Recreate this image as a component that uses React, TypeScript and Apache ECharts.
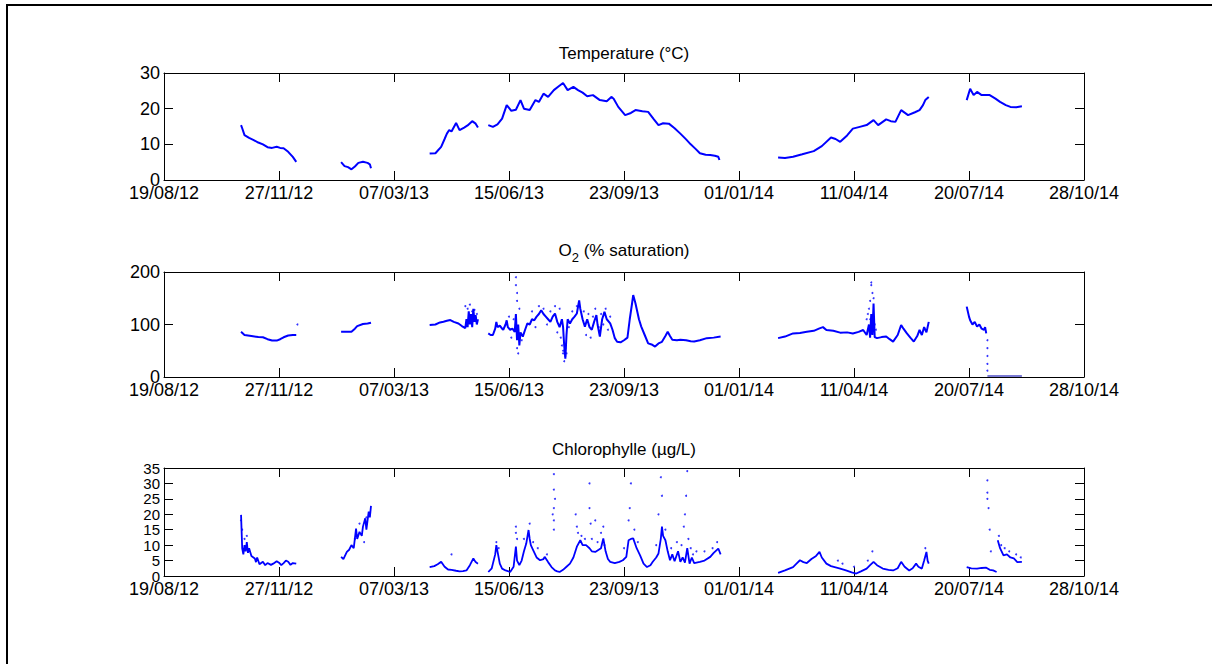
import React, { useEffect, useRef } from 'react';
import * as echarts from 'echarts';

// x values are days since 19/08/12 (ticks every 100 days)
const xTickLabels = ['19/08/12', '27/11/12', '07/03/13', '15/06/13', '23/09/13', '01/01/14', '11/04/14', '20/07/14', '28/10/14'];

const titles = ['Temperature (°C)', 'O2 (% saturation)', 'Chlorophylle (µg/L)'];

const temperatureSegments: [number, number][][] = [
  [[67, 15.4], [68, 14.5], [70, 12.6], [74, 11.8], [78, 11.2], [82, 10.5], [86, 10.0], [90, 9.2], [94, 9.0], [98, 9.3], [101, 9.0], [104, 8.9], [108, 7.9], [112, 6.5], [115, 5.1]],
  [[154, 5.0], [157, 3.9], [160, 3.6], [163, 3.0], [166, 3.8], [169, 4.8], [173, 5.1], [177, 4.8], [179, 4.4], [180, 3.3]],
  [[231, 7.4], [236, 7.5], [241, 9.3], [244, 11.5], [246, 13.0], [248, 14.0], [250, 13.6], [254, 16.0], [257, 14.0], [261, 14.7], [264, 15.3], [268, 16.5], [271, 15.8], [273, 14.7]],
  [[282, 15.4], [286, 14.9], [290, 15.6], [294, 17.2], [298, 21.0], [302, 19.4], [306, 19.7], [310, 22.4], [313, 20.0], [318, 19.6], [323, 22.4], [326, 21.9], [330, 24.2], [334, 23.3], [339, 25.2], [343, 26.2], [347, 27.2], [351, 25.2], [356, 26.1], [360, 25.2], [364, 24.5], [368, 23.5], [373, 23.8], [379, 22.4], [385, 22.1], [389, 23.3], [391, 22.8], [395, 20.5], [401, 18.2], [406, 18.8], [410, 19.6], [416, 19.3], [421, 19.1], [426, 17.0], [430, 15.4], [434, 15.9], [439, 15.8], [444, 14.5], [449, 13.0], [454, 11.4], [458, 10.0], [462, 8.8], [466, 7.5], [471, 7.1], [475, 7.0], [479, 6.8], [482, 6.5], [483, 5.6]],
  [[534, 6.3], [540, 6.2], [547, 6.5], [555, 7.2], [565, 8.1], [572, 9.5], [580, 11.9], [584, 11.5], [588, 10.7], [594, 12.5], [599, 14.4], [605, 14.9], [611, 15.4], [617, 16.8], [621, 15.4], [628, 17.0], [632, 16.5], [636, 16.3], [641, 19.6], [647, 18.2], [653, 19.0], [657, 19.6], [660, 21.0], [662, 22.4], [665, 23.3]],
  [[698, 22.4], [701, 25.6], [704, 23.8], [707, 24.7], [711, 23.8], [718, 23.8], [723, 22.8], [727, 21.9], [732, 21.0], [736, 20.5], [741, 20.4], [746, 20.7]],
];

const o2Segments: [number, number][][] = [
  [[67, 86], [70, 80], [76, 78], [82, 76], [86, 75.7], [90, 72], [94, 69.4], [98, 69.4], [101, 72], [104, 75.7], [108, 79], [112, 80], [115, 80]],
  [[154, 86], [159, 86], [163, 86.4], [166, 92], [168, 97], [173, 101], [177, 102], [180, 103.5]],
  [[231, 99], [236, 100], [240, 104], [243, 105.4], [246, 107], [249, 108.5], [252, 105], [256, 102], [259, 97], [262, 93], [263, 110], [264, 95], [265, 125], [266, 100], [267, 120], [268, 95], [269, 130], [270, 105], [271, 118], [272, 100], [273, 110]],
  [[282, 83], [284, 80], [286, 80], [288, 92], [289, 105], [290, 95], [292, 98], [294, 92], [295, 90], [297, 100], [298, 108], [299, 95], [301, 90], [303, 92], [305, 86], [306, 120], [307, 70], [308, 100], [309, 60], [310, 85], [312, 77], [314, 90], [316, 102], [318, 100], [320, 110], [322, 108], [324, 115], [326, 120], [328, 127], [330, 120], [332, 115], [334, 110], [336, 105], [338, 115], [340, 121], [342, 105], [344, 95], [346, 110], [347, 96], [348, 60], [349, 35], [350, 80], [351, 110], [353, 102], [355, 110], [357, 115], [359, 121], [361, 146], [362, 130], [364, 110], [366, 96], [368, 110], [370, 95], [372, 90], [374, 105], [376, 118], [377, 100], [379, 77], [381, 110], [383, 124], [385, 110], [388, 102], [390, 90], [392, 74], [394, 67], [397, 66], [400, 70], [403, 75], [405, 110], [407, 140], [408, 156], [410, 140], [411, 130], [413, 110], [415, 96], [418, 80], [421, 64], [424, 62], [427, 58], [430, 64], [433, 67], [436, 78], [438, 86], [440, 78], [442, 71], [446, 70], [449, 71], [454, 70], [458, 68], [461, 67.5], [466, 70], [472, 74], [478, 75], [484, 77]],
  [[534, 74], [540, 77], [547, 83], [553, 84], [559, 86], [565, 88], [570, 92.7], [573, 95], [576, 89.6], [582, 88], [588, 84.5], [594, 85], [599, 83], [604, 86], [608, 89.6], [611, 80], [613, 100], [614, 75], [615, 120], [616, 80], [617, 140], [618, 76], [620, 74], [624, 76], [628, 77], [631, 72], [634, 67.5], [638, 80], [641, 99], [643, 92], [646, 83], [649, 75], [652, 67.5], [655, 78], [657, 89.6], [659, 80], [661, 95], [663, 85], [665, 105]],
  [[698, 134], [700, 115], [701, 108], [703, 100], [705, 105], [707, 96], [709, 100], [711, 92], [713, 89.6], [714, 95], [715, 83]],
];

const o2Dots: [number, number][] = [
  [116, 100], [262, 135], [266, 138], [264, 130], [268, 125], [270, 128], [272, 120],
  [300, 115], [302, 75], [304, 110], [306, 190], [306, 175], [306, 100], [307, 160], [307, 145], [307, 55], [308, 45], [308, 80], [309, 130], [311, 70],
  [320, 125], [323, 95], [326, 135], [330, 130], [333, 100], [336, 125], [340, 135], [342, 85], [344, 130], [345, 75], [346, 60], [347, 45], [347, 50], [348, 30], [349, 40], [349, 55], [350, 45], [352, 95], [355, 125],
  [359, 135], [365, 125], [367, 80], [369, 120], [371, 75], [373, 115], [375, 130], [378, 95], [380, 120], [382, 100], [384, 130], [386, 90], [388, 115],
  [611, 110], [612, 120], [613, 130], [614, 145], [614, 110], [615, 175], [615, 180], [616, 160], [617, 150], [618, 100], [619, 90],
  [716, 70], [716, 55], [716, 40], [716, 25], [716, 12],
];

const o2Zero: [number, number][] = [[716, 2], [746, 2]];

const chlSegments: [number, number][][] = [
  [[67, 19.8], [68, 9], [69, 7], [70, 10], [71, 8], [72, 11], [73, 7.5], [74, 9], [76, 6.5], [79, 5.7], [80, 4.5], [81, 6], [83, 3.8], [86, 4.6], [88, 3.5], [90, 4.2], [93, 3.6], [95, 4.0], [98, 4.8], [100, 4.3], [102, 3.5], [104, 4.2], [106, 5], [108, 4.6], [110, 3.6], [112, 4.2], [115, 4.0]],
  [[154, 6.2], [156, 5.5], [159, 7.8], [161, 8.5], [163, 10], [165, 9], [167, 15.4], [168, 12], [170, 14.3], [172, 13], [173, 16], [175, 18.7], [176, 15], [178, 20.9], [179, 19], [180, 22.7]],
  [[231, 2.9], [235, 3.2], [238, 3.8], [241, 4.6], [244, 3], [247, 2.1], [250, 2], [254, 1.7], [257, 1.5], [260, 1.6], [263, 1.8], [266, 3.5], [269, 5.7], [271, 4.5], [273, 4.0]],
  [[282, 1.3], [285, 2.5], [286, 4], [288, 7], [289, 10], [290, 8], [292, 4], [294, 2.4], [297, 1.8], [301, 1.3], [304, 3], [306, 9.5], [307, 5], [309, 3.5], [311, 5], [313, 8], [315, 10.5], [317, 14.9], [318, 12], [319, 10], [321, 8.4], [324, 6], [327, 5.1], [330, 5.5], [331, 6.2], [334, 4.5], [337, 2.9], [340, 1.8], [342, 1.5], [344, 1.3], [347, 2], [350, 3], [353, 4], [356, 6], [359, 9.5], [362, 11.6], [364, 10], [367, 10], [370, 9], [372, 8], [375, 7.8], [378, 8.5], [380, 9], [382, 12.2], [384, 8], [386, 5.5], [388, 4.6], [392, 4.2], [396, 4.6], [399, 5.1], [402, 6.2], [404, 11.6], [406, 12], [408, 12.2], [411, 9], [414, 6.7], [417, 4], [420, 2.9], [423, 3.5], [425, 4.6], [428, 6], [430, 7.3], [432, 12], [433, 16], [434, 13], [436, 11.6], [438, 8], [440, 5.1], [442, 7], [444, 4.8], [447, 8], [449, 4.6], [451, 6], [453, 4.3], [455, 9], [457, 4.0], [459, 6], [461, 4.2], [466, 4.6], [470, 5], [475, 6.2], [478, 7.5], [482, 8.9], [484, 7]],
  [[534, 1.0], [540, 1.8], [547, 2.9], [550, 4], [553, 5.1], [556, 4.5], [559, 4.2], [563, 5.5], [567, 6.5], [570, 7.8], [572, 6], [576, 4.0], [580, 3.2], [584, 2.8], [588, 2.4], [593, 1.8], [598, 1.2], [602, 0.8], [606, 1.5], [611, 2.4], [614, 3.5], [617, 4.6], [620, 3.5], [625, 2.4], [630, 2], [634, 1.8], [638, 2.5], [641, 4.6], [644, 3], [648, 1.8], [651, 2.5], [654, 4.0], [656, 3], [659, 2.4], [661, 5], [663, 7.8], [664, 5], [665, 4.0]],
  [[698, 2.9], [702, 2.5], [707, 2.4], [711, 2.6], [715, 2.7], [718, 2], [721, 1.8], [724, 1.3]],
  [[725, 11.6], [727, 9], [730, 6.7], [733, 7], [736, 6], [739, 5.7], [742, 4.5], [746, 4.6]],
];

const chlDots: [number, number][] = [
  [67, 18], [68, 15], [70, 12], [72, 13], [166, 12], [170, 17], [174, 11], [176, 19], [250, 7],
  [289, 11], [291, 9], [306, 16], [306, 14], [307, 12], [313, 12], [318, 17], [321, 11], [325, 9], [333, 7],
  [338, 20], [339, 33], [339, 28], [339, 22], [339, 18], [339, 15], [340, 25], [358, 20], [359, 16], [360, 14], [363, 13], [366, 12],
  [370, 30], [370, 22], [371, 17], [372, 12], [375, 18], [377, 11], [380, 14], [382, 16], [383, 10], [400, 9],
  [404, 18], [405, 22], [406, 30], [409, 15], [412, 11], [428, 10], [430, 20], [432, 32], [433, 26], [436, 15], [441, 9], [446, 11], [450, 10],
  [452, 16], [453, 20], [454, 26], [455, 34], [456, 12], [458, 9], [460, 7], [463, 8], [470, 8], [477, 9], [481, 11],
  [586, 5], [590, 4], [600, 3], [612, 5], [616, 8], [662, 9],
  [716, 31], [716, 27], [716, 25], [717, 22], [718, 15], [719, 8], [726, 13], [728, 10], [731, 9], [735, 8], [741, 7], [745, 6],
];

const yRanges = [
  { min: 0, max: 30, interval: 10 },
  { min: 0, max: 200, interval: 100 },
  { min: 0, max: 35, interval: 5 },
];
const yLabelSizes = [18, 18, 15];

const FONT = '"Liberation Sans", Arial, sans-serif';
const BLUE = '#0000ff';

export default function App() {
  const ref = useRef<HTMLDivElement>(null);
  useEffect(() => {
    const chart = echarts.init(ref.current!, null, { renderer: 'svg' });
    const grids = [
      { left: 164, top: 73, width: 920, height: 107 },
      { left: 164, top: 272, width: 920, height: 105 },
      { left: 164, top: 468, width: 920, height: 108 },
    ];
    const xAxis: any[] = [];
    const yAxis: any[] = [];
    grids.forEach((_, i) => {
      const common = {
        type: 'value', gridIndex: i, min: 0, max: 800, interval: 100,
        axisLine: { show: true, onZero: false, lineStyle: { color: '#000', width: 1 } },
        axisTick: { show: true, inside: true, length: 9, lineStyle: { color: '#000' } },
        splitLine: { show: false },
      };
      xAxis.push({
        ...common, position: 'bottom',
        axisLabel: {
          formatter: (v: number) => xTickLabels[Math.round(v / 100)],
          fontSize: 18, color: '#000', fontFamily: FONT, margin: 4, hideOverlap: false,
          showMinLabel: true, showMaxLabel: true,
        },
      });
      xAxis.push({ ...common, position: 'top', axisLabel: { show: false } });
      const ycommon = {
        type: 'value', gridIndex: i, ...yRanges[i],
        axisLine: { show: true, onZero: false, lineStyle: { color: '#000', width: 1 } },
        axisTick: { show: true, inside: true, length: 9, lineStyle: { color: '#000' } },
        splitLine: { show: false },
      };
      yAxis.push({
        ...ycommon, position: 'left',
        axisLabel: {
          fontSize: yLabelSizes[i], color: '#000', fontFamily: FONT, margin: 4, hideOverlap: false,
          showMinLabel: true, showMaxLabel: true, lineHeight: 12, interval: 0,
        },
      });
      yAxis.push({ ...ycommon, position: 'right', axisLabel: { show: false } });
    });

    const series: any[] = [];
    const addLines = (segs: [number, number][][], gi: number, width: number, color = BLUE) => {
      segs.forEach((seg) => {
        series.push({
          type: 'line', xAxisIndex: gi * 2, yAxisIndex: gi * 2, data: seg,
          showSymbol: false, symbol: 'none', lineStyle: { color, width }, silent: true,
        });
      });
    };
    const addDots = (pts: [number, number][], gi: number) => {
      series.push({
        type: 'scatter', xAxisIndex: gi * 2, yAxisIndex: gi * 2, data: pts,
        symbolSize: 2, itemStyle: { color: BLUE }, silent: true,
      });
    };
    addLines(temperatureSegments, 0, 2);
    addLines(o2Segments, 1, 2);
    addDots(o2Dots, 1);
    addLines([o2Zero], 1, 2, '#7a7ad4');
    addLines(chlSegments, 2, 1.8);
    addDots(chlDots, 2);

    const titleStyle = { font: `17px ${FONT}`, fill: '#000', textAlign: 'center', textVerticalAlign: 'middle' };

    chart.setOption({
      animation: false,
      backgroundColor: '#fff',
      grid: grids,
      xAxis,
      yAxis,
      series,
      graphic: [
        { type: 'line', shape: { x1: 6, y1: 5, x2: 1212, y2: 5 }, style: { stroke: '#000', lineWidth: 2 } },
        { type: 'line', shape: { x1: 7, y1: 4, x2: 7, y2: 664 }, style: { stroke: '#000', lineWidth: 2 } },
        { type: 'text', x: 624, y: 53, style: { ...titleStyle, text: titles[0] } },
        {
          type: 'text', x: 624, y: 252.5,
          style: {
            ...titleStyle,
            text: '{b|O}{s|2}{b| (% saturation)}',
            rich: {
              b: { fontSize: 17, fontFamily: FONT, fill: '#000', verticalAlign: 'top', lineHeight: 20 },
              s: { fontSize: 13, fontFamily: FONT, fill: '#000', verticalAlign: 'bottom', lineHeight: 22 },
            },
          },
        },
        { type: 'text', x: 624, y: 449, style: { ...titleStyle, text: titles[2] } },
      ],
    });
    return () => chart.dispose();
  }, []);
  return <div ref={ref} style={{ position: 'absolute', left: 0, top: 0, width: 1212, height: 664, background: '#fff' }} />;
}
